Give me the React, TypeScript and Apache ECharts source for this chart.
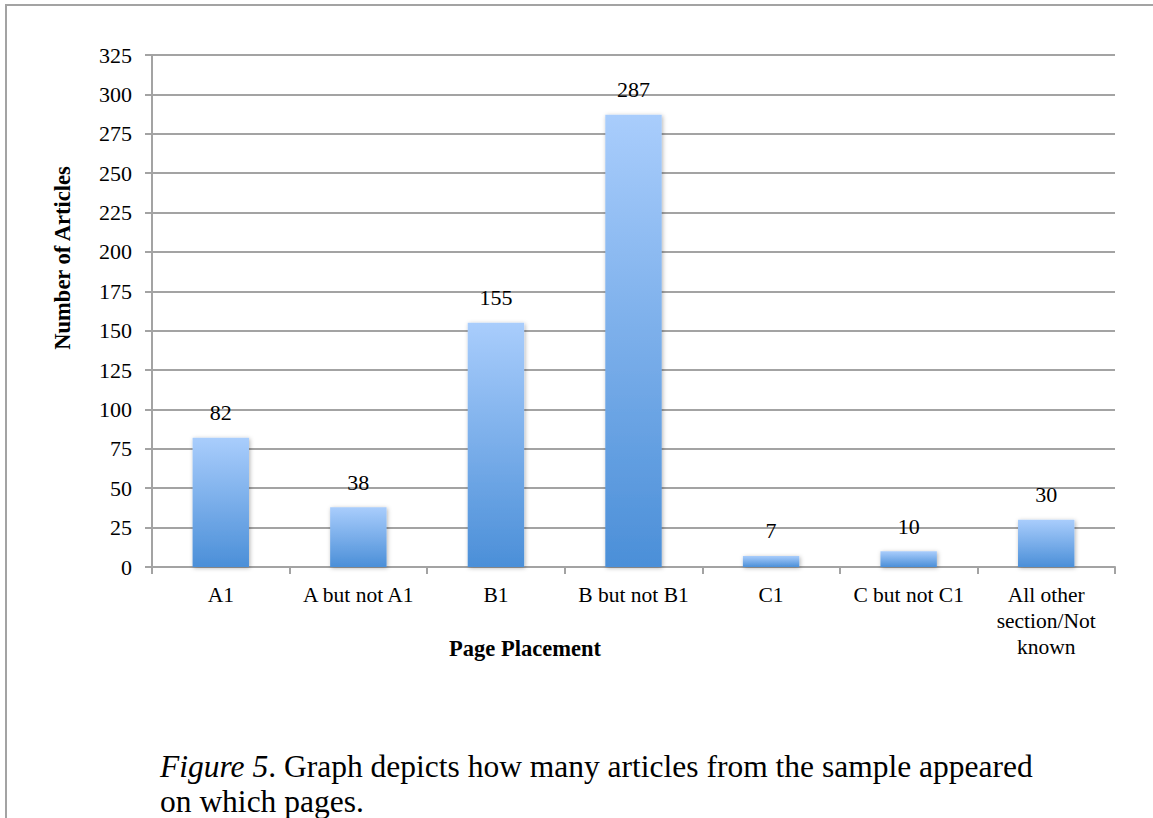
import React, { useEffect, useRef } from "react";
import * as echarts from "echarts";

const categories = ["A1", "A but not A1", "B1", "B but not B1", "C1", "C but not C1", "All other\nsection/Not\nknown"];
const articleCounts = [82, 38, 155, 287, 7, 10, 30];
const yTicks = { min: 0, max: 325, interval: 25 };
const yTitle = "Number of Articles";
const xTitle = "Page Placement";
const captionItalic = "Figure 5";
const captionLine1 = ". Graph depicts how many articles from the sample appeared";
const captionLine2 = "on which pages.";

export default function App() {
  const ref = useRef<HTMLDivElement>(null);
  useEffect(() => {
    if (!ref.current) return;
    const chart = echarts.init(ref.current, undefined, { renderer: "svg" });
    const labelFont = "Liberation Serif";
    const gray = "#a3a3a3";
    chart.setOption({
      animation: false,
      backgroundColor: "#ffffff",
      grid: { left: 152, right: 38, top: 55, bottom: 251, containLabel: false },
      xAxis: {
        type: "category",
        data: categories,
        boundaryGap: true,
        axisLine: { show: true, lineStyle: { color: gray, width: 2 } },
        axisTick: { show: true, alignWithLabel: false, length: 7, lineStyle: { color: gray, width: 2 } },
        axisLabel: {
          color: "#000",
          fontFamily: labelFont,
          fontSize: 21.5,
          margin: 15,
          lineHeight: 26,
          interval: 0,
        },
        splitLine: { show: false },
      },
      yAxis: {
        type: "value",
        min: yTicks.min,
        max: yTicks.max,
        interval: yTicks.interval,
        axisLine: { show: true, lineStyle: { color: gray, width: 2 } },
        axisTick: { show: true, inside: false, length: 7, lineStyle: { color: gray, width: 2 } },
        axisLabel: { color: "#000", fontFamily: labelFont, fontSize: 22, margin: 20 },
        splitLine: { show: true, lineStyle: { color: gray, width: 2 } },
      },
      series: [
        {
          type: "bar",
          data: articleCounts,
          barWidth: "41%",
          itemStyle: {
            color: new echarts.graphic.LinearGradient(0, 0, 0, 1, [
              { offset: 0, color: "#a9cdfc" },
              { offset: 1, color: "#4b8fd8" },
            ]),
            shadowBlur: 4,
            shadowColor: "rgba(0,0,0,0.3)",
            shadowOffsetX: 1,
            shadowOffsetY: 1,
          },
          label: {
            show: true,
            position: "top",
            distance: 14,
            color: "#000",
            fontFamily: labelFont,
            fontSize: 22,
          },
        },
      ],
      graphic: [
        { type: "line", shape: { x1: 5, y1: 5, x2: 1153, y2: 5 }, style: { stroke: gray, lineWidth: 2 } },
        { type: "line", shape: { x1: 6, y1: 5, x2: 6, y2: 818 }, style: { stroke: gray, lineWidth: 2 } },
        {
          type: "text",
          x: 62,
          y: 258,
          rotation: Math.PI / 2,
          style: {
            text: yTitle,
            align: "center",
            verticalAlign: "middle",
            fill: "#000",
            font: "bold 22.5px 'Liberation Serif'",
          },
        },
        {
          type: "text",
          x: 525,
          y: 648,
          style: {
            text: xTitle,
            align: "center",
            verticalAlign: "middle",
            fill: "#000",
            font: "bold 22.5px 'Liberation Serif'",
          },
        },
        {
          type: "text",
          x: 160,
          y: 766,
          style: {
            text: `{i|${captionItalic}}{n|${captionLine1}}`,
            verticalAlign: "middle",
            fill: "#000",
            rich: {
              i: { fontFamily: "Liberation Serif", fontSize: 31.5, fontStyle: "italic", fill: "#000" },
              n: { fontFamily: "Liberation Serif", fontSize: 31.5, fill: "#000" },
            },
          },
        },
        {
          type: "text",
          x: 160,
          y: 801,
          style: {
            text: captionLine2,
            verticalAlign: "middle",
            fill: "#000",
            font: "31.5px 'Liberation Serif'",
          },
        },
      ],
    });
    return () => chart.dispose();
  }, []);
  return (
    <div
      ref={ref}
      style={{ position: "absolute", left: 0, top: 0, width: 1153, height: 818, background: "#fff" }}
    />
  );
}
